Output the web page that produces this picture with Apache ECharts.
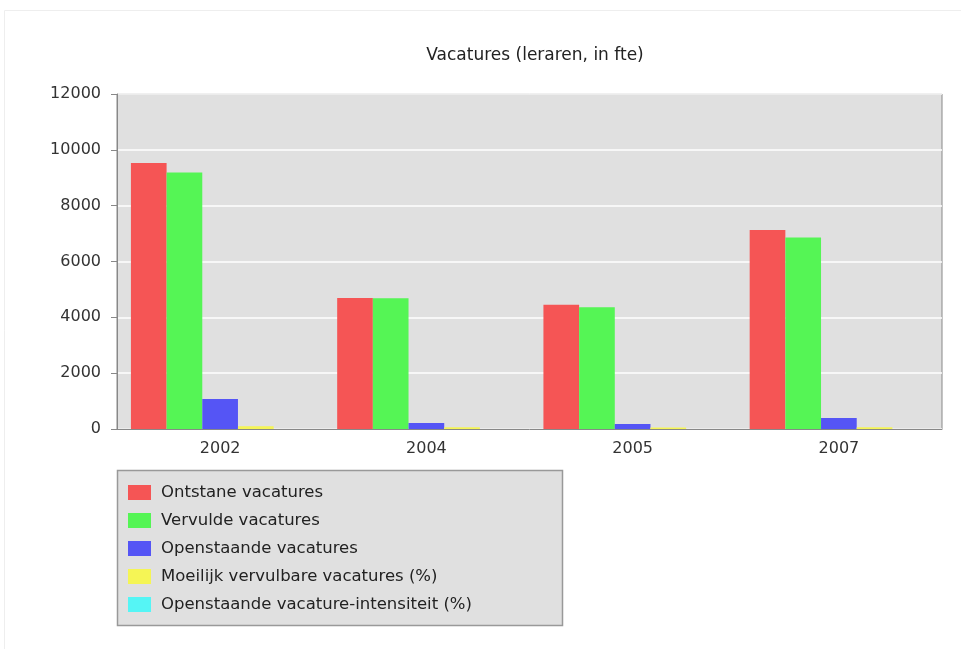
<!DOCTYPE html>
<html>
<head>
<meta charset="utf-8">
<script src="https://cdn.jsdelivr.net/npm/echarts@6/dist/echarts.min.js"></script>
<style>
html,body{margin:0;padding:0;background:#fff;}
#c{width:961px;height:649px;}
</style>
</head>
<body>
<div id="c"></div>
<script>
const title = 'Vacatures (leraren, in fte)';
const categories = ['2002', '2004', '2005', '2007'];
const seriesNames = ['Ontstane vacatures', 'Vervulde vacatures', 'Openstaande vacatures', 'Moeilijk vervulbare vacatures (%)', 'Openstaande vacature-intensiteit (%)'];
const ontstane = [9530, 4690, 4450, 7130];
const vervulde = [9190, 4680, 4360, 6860];
const openstaande = [1075, 215, 180, 395];
const moeilijk = [100, 60, 55, 60];
const intensiteit = [2, 1, 1, 2];
const yTicks = [0, 2000, 4000, 6000, 8000, 10000, 12000];
const colors = ['#f55555', '#55f555', '#5555f5', '#f5f555', '#55f5f5'];

const font = 'DejaVu Sans';
const allValues = [ontstane, vervulde, openstaande, moeilijk, intensiteit];

const chart = echarts.init(document.getElementById('c'), null, {renderer: 'canvas'});
chart.setOption({
  animation: false,
  backgroundColor: '#ffffff',
  color: colors,
  title: {
    text: title,
    left: 530, top: 42, textAlign: 'center',
    textStyle: {fontFamily: font, fontSize: 17, fontWeight: 'normal', color: '#222'}
  },
  graphic: [
    {type: 'rect', shape: {x: 4.5, y: 10.5, width: 980, height: 700}, style: {fill: 'none', stroke: '#eeeeee', lineWidth: 1}, z: -10},
    {type: 'rect', shape: {x: 117.5, y: 470.5, width: 445, height: 155}, style: {fill: '#e0e0e0', stroke: '#999999', lineWidth: 1.5}, z: 0}
  ],
  legend: {
    orient: 'vertical',
    left: 123, top: 479,
    itemWidth: 23, itemHeight: 15, itemGap: 11,
    icon: 'rect',
    data: seriesNames,
    textStyle: {fontFamily: font, fontSize: 16.5, color: '#222', padding: [0, 0, 0, 5]},
    z: 5
  },
  grid: {left: 117, right: 19, top: 94, bottom: 220, show: true, backgroundColor: '#e0e0e0', borderColor: '#888', borderWidth: 1},
  xAxis: {
    type: 'category', data: categories,
    axisLine: {show: true, lineStyle: {color: '#888', width: 1}},
    axisTick: {show: false},
    axisLabel: {fontFamily: font, fontSize: 16, color: '#333', margin: 12}
  },
  yAxis: {
    type: 'value', min: yTicks[0], max: yTicks[yTicks.length - 1], interval: 2000,
    axisLine: {show: true, lineStyle: {color: '#888'}},
    axisTick: {show: true, length: 6, lineStyle: {color: '#888'}},
    axisLabel: {fontFamily: font, fontSize: 16, color: '#333', margin: 16, formatter: v => String(v)},
    splitLine: {show: true, lineStyle: {color: '#ffffff', width: 1.5}}
  },
  series: seriesNames.map((n, i) => ({
    name: n, type: 'bar', data: allValues[i],
    barGap: '0%', barCategoryGap: '13.5%',
    itemStyle: {color: colors[i]}
  }))
});
</script>
</body>
</html>
